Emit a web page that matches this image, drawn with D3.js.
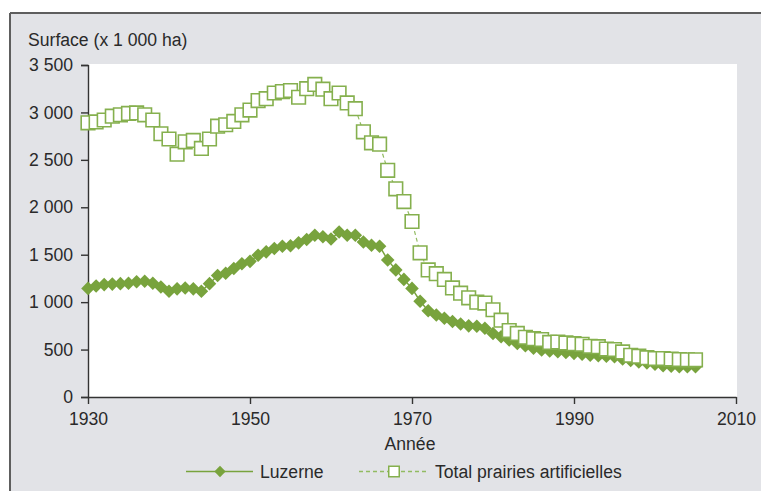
<!DOCTYPE html>
<html>
<head>
<meta charset="utf-8">
<script src="https://cdn.jsdelivr.net/npm/d3@7"></script>
<style>
  html, body { margin: 0; padding: 0; background: #ffffff; }
  svg { display: block; }
  text { font-family: "Liberation Sans", Arial, sans-serif; fill: #2a2a2a; }
</style>
</head>
<body>
<svg id="chart" width="761" height="491"></svg>
<script>
const years = [1930,1931,1932,1933,1934,1935,1936,1937,1938,1939,
  1940,1941,1942,1943,1944,1945,1946,1947,1948,1949,
  1950,1951,1952,1953,1954,1955,1956,1957,1958,1959,
  1960,1961,1962,1963,1964,1965,1966,1967,1968,1969,
  1970,1971,1972,1973,1974,1975,1976,1977,1978,1979,
  1980,1981,1982,1983,1984,1985,1986,1987,1988,1989,
  1990,1991,1992,1993,1994,1995,1996,1997,1998,1999,
  2000,2001,2002,2003,2004,2005];

const luzerne = [1145,1170,1185,1190,1195,1200,1215,1220,1200,1160,
  1115,1140,1150,1140,1115,1195,1280,1305,1355,1405,
  1430,1495,1530,1565,1590,1595,1625,1660,1705,1690,
  1665,1740,1705,1705,1635,1600,1590,1445,1340,1240,
  1145,1010,910,865,830,795,770,750,745,725,
  670,635,600,565,540,515,495,485,478,470,
  460,450,440,435,430,425,400,385,370,360,
  345,330,325,320,320,320];

const totalPrairies = [2890,2900,2920,2960,2975,2990,2995,2975,2920,2775,
  2720,2560,2690,2705,2620,2720,2855,2870,2905,2975,
  3025,3125,3145,3205,3220,3230,3160,3250,3295,3245,
  3145,3205,3100,3040,2795,2680,2665,2390,2195,2060,
  1850,1520,1340,1300,1240,1150,1095,1045,1000,990,
  920,810,700,670,630,615,605,575,580,570,
  562,555,535,530,505,500,475,440,430,415,
  405,405,400,395,392,392];

const xTicks = [1930,1950,1970,1990,2010];
const yTicks = [0,500,1000,1500,2000,2500,3000,3500];
const yTickLabels = ["0","500","1 000","1 500","2 000","2 500","3 000","3 500"];
const yTitle = "Surface (x 1 000 ha)";
const xTitle = "Année";
const seriesNames = ["Luzerne","Total prairies artificielles"];

(function draw(){
const svg = d3.select("#chart");
const W = 761, H = 491;
const mLeft = 88, mRight = 736, mTop = 65, mBottom = 397;

const green = "#78a33d";
const sqGreen = "#85b04e";
const fs = "17.6px";

// frame
svg.append("rect").attr("x",10).attr("y",13).attr("width",W).attr("height",H)
  .attr("fill","#e2e3e7");
svg.append("line").attr("x1",10).attr("x2",W).attr("y1",13).attr("y2",13)
  .attr("stroke","#5e5e5e").attr("stroke-width",2);
svg.append("line").attr("x1",10).attr("x2",10).attr("y1",13).attr("y2",H)
  .attr("stroke","#5e5e5e").attr("stroke-width",2);

// plot area
svg.append("rect").attr("x",mLeft).attr("y",64).attr("width",737-mLeft).attr("height",mBottom-64)
  .attr("fill","#ffffff");

const x = d3.scaleLinear().domain([1930,2010]).range([mLeft,mRight]);
const y = d3.scaleLinear().domain([0,3500]).range([mBottom,mTop]);

// axes
const yAxis = d3.axisLeft(y).tickValues(yTicks)
  .tickFormat((d,i)=>yTickLabels[i]).tickSize(7).tickPadding(8);
const gy = svg.append("g").attr("transform",`translate(${mLeft},0)`).call(yAxis);
gy.select(".domain").attr("stroke","#333").attr("stroke-width",1.4);
gy.selectAll(".tick line").attr("stroke","#333").attr("stroke-width",1.4);
gy.selectAll(".tick text").attr("font-size",fs).attr("fill","#2a2a2a")
  .attr("font-family","'Liberation Sans', Arial, sans-serif");

const xAxis = d3.axisBottom(x).tickValues(xTicks).tickFormat(d3.format("d"))
  .tickSize(7).tickSizeOuter(0).tickPadding(9);
const gx = svg.append("g").attr("transform",`translate(0,${mBottom})`).call(xAxis);
gx.select(".domain").attr("stroke","#333").attr("stroke-width",1.4);
gx.selectAll(".tick line").attr("stroke","#333").attr("stroke-width",1.4);
gx.selectAll(".tick text").attr("font-size",fs).attr("fill","#2a2a2a")
  .attr("font-family","'Liberation Sans', Arial, sans-serif");

// titles
svg.append("text").attr("x",28).attr("y",46).attr("font-size",fs).text(yTitle);
svg.append("text").attr("x",410).attr("y",450).attr("text-anchor","middle")
  .attr("font-size",fs).text(xTitle);

const luzData = years.map((yr,i)=>({yr, v: luzerne[i]}));
const totData = years.map((yr,i)=>({yr, v: totalPrairies[i]}));

const line = d3.line().x(d=>x(d.yr)).y(d=>y(d.v));

// Luzerne
svg.append("path").datum(luzData).attr("d",line)
  .attr("fill","none").attr("stroke",green).attr("stroke-width",1.5);
const diamond = d3.symbol().type(d3.symbolSquare).size(92);
svg.append("g").selectAll("path").data(luzData).join("path")
  .attr("d",diamond)
  .attr("transform",d=>`translate(${x(d.yr)},${y(d.v)}) rotate(45)`)
  .attr("fill",green);

// Total
svg.append("path").datum(totData).attr("d",line)
  .attr("fill","none").attr("stroke","#92bb62").attr("stroke-width",1.2)
  .attr("stroke-dasharray","4,3");
const square = d3.symbol().type(d3.symbolSquare).size(185);
svg.append("g").selectAll("path").data(totData).join("path")
  .attr("d",square)
  .attr("transform",d=>`translate(${x(d.yr)},${y(d.v)})`)
  .attr("fill","#ffffff").attr("stroke",sqGreen).attr("stroke-width",1.6);

// legend
const ly = 471.5;
svg.append("line").attr("x1",186).attr("x2",253).attr("y1",ly).attr("y2",ly)
  .attr("stroke",green).attr("stroke-width",1.5);
svg.append("path").attr("d",d3.symbol().type(d3.symbolSquare).size(64)())
  .attr("transform",`translate(220,${ly}) rotate(45)`).attr("fill",green);
svg.append("text").attr("x",260).attr("y",478).attr("font-size",fs).text(seriesNames[0]);

svg.append("line").attr("x1",359).attr("x2",428).attr("y1",ly).attr("y2",ly)
  .attr("stroke","#92bb62").attr("stroke-width",1.3).attr("stroke-dasharray","4,3");
svg.append("path").attr("d",d3.symbol().type(d3.symbolSquare).size(110)())
  .attr("transform",`translate(394,${ly})`).attr("fill","#ffffff")
  .attr("stroke",sqGreen).attr("stroke-width",1.5);
svg.append("text").attr("x",435).attr("y",478).attr("font-size",fs).text(seriesNames[1]);
})();
</script>
</body>
</html>
